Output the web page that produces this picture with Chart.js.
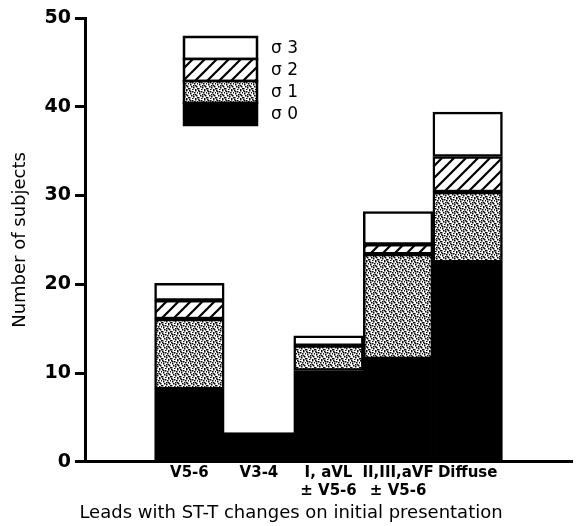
<!DOCTYPE html>
<html>
<head>
<meta charset="utf-8">
<script src="https://cdn.jsdelivr.net/npm/chart.js@4/dist/chart.umd.min.js"></script>
<style>
  body { margin: 0; background: #fff; }
  #wrap { width: 579px; height: 526px; }
</style>
</head>
<body>
<div id="wrap"><canvas id="chart" width="579" height="526"></canvas></div>
<script>
// categories (empty slots at both ends keep the bars off the axes)
const categories = ['', 'V5-6', 'V3-4', ['I, aVL', '\u00b1 V5-6'], ['II,III,aVF', '\u00b1 V5-6'], 'Diffuse', '']
const sigma0 = [null, 8.2, 3.3, 10.3, 11.6, 22.5, null]
const sigma1 = [null, 7.9, 0, 2.8, 11.8, 7.9, null]
const sigma2 = [null, 2.1, 0, 0, 1.1, 4.0, null]
const sigma3 = [null, 1.9, 0, 1.1, 3.7, 5.0, null]
const seriesNames = ['\u03c3 0', '\u03c3 1', '\u03c3 2', '\u03c3 3']
const yTicks = [0, 10, 20, 30, 40, 50]

const FONT = 'DejaVu Sans'

// stipple texture for sigma 1
function dotPattern() {
  const c = document.createElement('canvas')
  c.width = 9; c.height = 9
  const g = c.getContext('2d')
  g.fillStyle = '#fff'
  g.fillRect(0, 0, 9, 9)
  g.fillStyle = '#000'
  const pts = [[0,0],[3,1],[6,0],[1,3],[4,4],[5,2],[8,2],[2,5],[4,6],[7,5],[0,7],[3,8],[6,8],[8,7],[6,4],[1,1]]
  pts.forEach(p => g.fillRect(p[0], p[1], 1.5, 1.5))
  return g.createPattern(c, 'repeat')
}

// diagonal hatching for sigma 2
function hatchPattern() {
  const c = document.createElement('canvas')
  c.width = 12; c.height = 12
  const g = c.getContext('2d')
  g.fillStyle = '#fff'
  g.fillRect(0, 0, 12, 12)
  g.strokeStyle = '#000'
  g.lineWidth = 2.2
  g.beginPath()
  g.moveTo(-2, 14); g.lineTo(14, -2)
  g.moveTo(-8, 8); g.lineTo(8, -8)
  g.moveTo(4, 20); g.lineTo(20, 4)
  g.stroke()
  return g.createPattern(c, 'repeat')
}

const fills = ['#000', dotPattern(), hatchPattern(), '#fff']
const values = [sigma0, sigma1, sigma2, sigma3]

const datasets = values.map((v, i) => ({
  label: seriesNames[i],
  data: v,
  backgroundColor: fills[i],
  borderColor: '#000',
  borderWidth: 2.5,
  borderSkipped: false,
  categoryPercentage: 1,
  barPercentage: 1
}))

// the stacked legend box in the upper left of the plot
const boxLegend = {
  id: 'boxLegend',
  afterDraw(chart) {
    const c = chart.ctx
    const x = 184, w = 73, top = 37, h = 22
    c.save()
    const n = chart.data.datasets.length
    for (let k = 0; k < n; k++) {
      const ds = chart.data.datasets[n - 1 - k]
      const y = top + k * h
      c.fillStyle = ds.backgroundColor
      c.fillRect(x, y, w, h)
      c.strokeStyle = '#000'
      c.lineWidth = 2.5
      c.strokeRect(x, y, w, h)
      c.fillStyle = '#000'
      c.font = '17px "' + FONT + '"'
      c.textBaseline = 'middle'
      c.fillText(ds.label, x + w + 14, y + h / 2 + 1)
    }
    c.restore()
  }
}

new Chart(document.getElementById('chart'), {
  type: 'bar',
  data: { labels: categories, datasets: datasets },
  plugins: [boxLegend],
  options: {
    responsive: false,
    animation: false,
    layout: { padding: { left: 10, right: 7, top: 18, bottom: 1 } },
    plugins: {
      legend: { display: false },
      tooltip: { enabled: false },
      title: {
        display: true,
        position: 'bottom',
        text: 'Leads with ST-T changes on initial presentation',
        color: '#000',
        font: { family: FONT, size: 18, weight: 'normal' },
        padding: { top: 0, bottom: 1 }
      }
    },
    scales: {
      x: {
        stacked: true,
        grid: { display: true, drawOnChartArea: false, drawTicks: false },
        border: { display: true, color: '#000', width: 3 },
        ticks: {
          color: '#000',
          font: { family: FONT, size: 15, weight: 'bold', lineHeight: 1.15 },
          padding: 3,
          maxRotation: 0,
          autoSkip: false
        }
      },
      y: {
        stacked: true,
        min: 0,
        max: 50,
        afterBuildTicks: s => { s.ticks = yTicks.map(v => ({ value: v })) },
        grid: { drawOnChartArea: false, drawTicks: true, tickLength: 10, color: '#000', lineWidth: 3 },
        border: { display: true, color: '#000', width: 3 },
        ticks: {
          color: '#000',
          font: { family: FONT, size: 19, weight: 'bold' },
          padding: 4
        },
        title: {
          display: true,
          text: 'Number of subjects',
          color: '#000',
          font: { family: FONT, size: 18 },
          padding: { top: 0, bottom: 9 }
        }
      }
    }
  }
})
</script>
</body>
</html>
